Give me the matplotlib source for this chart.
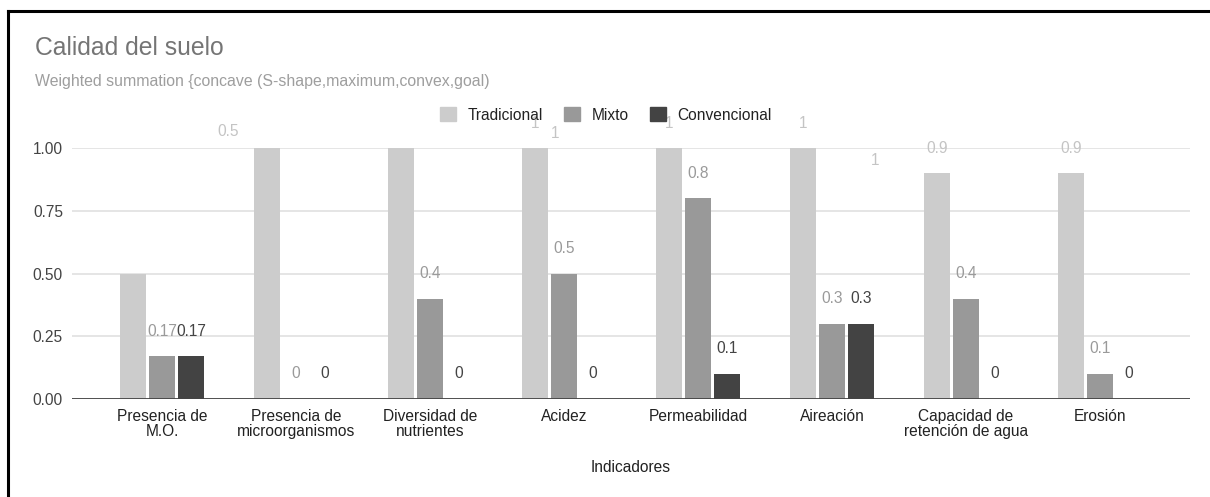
import numpy as np
import matplotlib
matplotlib.use('Agg')
import matplotlib.pyplot as plt
from matplotlib.lines import Line2D
from matplotlib.patches import Patch

plt.rcParams['font.family'] = ['Liberation Sans', 'DejaVu Sans']

# data
indicadores = ['Presencia de\nM.O.', 'Presencia de\nmicroorganismos', 'Diversidad de\nnutrientes',
               'Acidez', 'Permeabilidad', 'Aireación', 'Capacidad de\nretención de agua', 'Erosión']
tradicional = [0.5, 1, 1, 1, 1, 1, 0.9, 0.9]
mixto = [0.17, 0, 0.4, 0.5, 0.8, 0.3, 0.4, 0.1]
convencional = [0.17, 0, 0, 0, 0.1, 0.3, 0, 0]
yticks = [0.0, 0.25, 0.5, 0.75, 1.0]

series = [('Tradicional', tradicional, '#cccccc', '#c4c4c4'),
          ('Mixto', mixto, '#999999', '#9a9a9a'),
          ('Convencional', convencional, '#434343', '#444444')]

# where Google moved some of the Tradicional labels (pixels from normal spot)
trad_shift = {0: (95, 117), 1: (288, -10), 2: (474, -37)}

fs = 11.2

fig = plt.figure(figsize=(12.10, 4.97), dpi=100)
ax = fig.add_axes([72 / 1210, 98 / 497, 1118 / 1210, 251 / 497])

x = np.arange(len(indicadores))
w = 0.194
step = 0.216
for k, (name, vals, col, lcol) in enumerate(series):
    xs = x + (k - 1) * step
    ax.bar(xs, vals, width=w, color=col, label=name, zorder=3)
    for i, v in enumerate(vals):
        dx, dy = 0, 25
        if k == 0 and i in trad_shift:
            dx = trad_shift[i][0]
            dy = 25 + trad_shift[i][1]
        ax.annotate(str(v), (xs[i], v), xytext=(dx, dy), textcoords='offset pixels',
                    ha='center', va='center', fontsize=fs, color=lcol,
                    annotation_clip=False, zorder=5)

ax.set_xlim(-0.672, 7.672)
ax.set_ylim(0, 1)
ax.set_yticks(yticks)
ax.set_yticklabels(['%.2f' % t for t in yticks])
ax.set_xticks(x)
ax.set_xticklabels(indicadores, linespacing=1.05)
ax.tick_params(axis='both', length=0, labelsize=fs, colors='#222222')
ax.tick_params(axis='x', pad=7)
ax.tick_params(axis='y', pad=6.5, labelcolor='#444444')
for s in ax.spines.values():
    s.set_visible(False)
ax.grid(axis='y', color='#e0e0e0', lw=1.2, zorder=0)
ax.axhline(0, color='#444444', lw=1.3, zorder=4)
ax.set_xlabel('Indicadores', fontsize=fs, color='#222222', labelpad=15)

fig.text(35 / 1210, 1 - 48 / 497, 'Calidad del suelo', fontsize=17.8, color='#757575',
         ha='left', va='center')
fig.text(35 / 1210, 1 - 81 / 497, 'Weighted summation {concave (S-shape,maximum,convex,goal)',
         fontsize=11.4, color='#9e9e9e', ha='left', va='center')

handles = [Patch(facecolor=c, edgecolor=c) for _, _, c, _ in series]
fig.legend(handles, [s[0] for s in series], loc='center', bbox_to_anchor=(606 / 1210, 1 - 115 / 497),
           ncol=3, frameon=False, fontsize=fs, handlelength=1.0, handleheight=1.0,
           handletextpad=0.75, columnspacing=1.4, labelcolor='#222222', borderpad=0)

# screenshot border (left and top)
fig.add_artist(Line2D([8 / 1210, 8 / 1210], [0, 1 - 11 / 497], color='black', lw=2.2))
fig.add_artist(Line2D([8 / 1210, 1], [1 - 11 / 497, 1 - 11 / 497], color='black', lw=2.2))

fig.savefig('out.png', dpi=100)
